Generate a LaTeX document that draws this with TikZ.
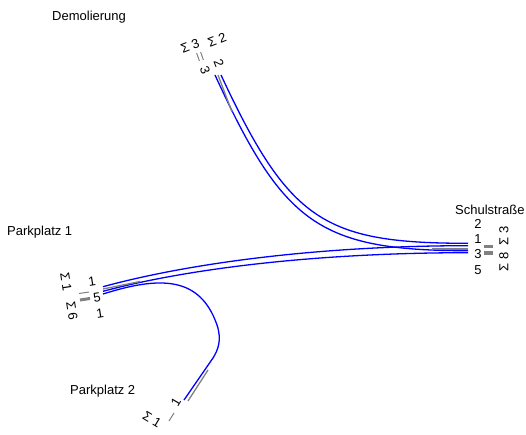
\documentclass[tikz,border=0pt]{standalone}
\usepackage{fontspec}
\setmainfont{Liberation Sans}
\usepackage{tikz}

\tikzset{
  road/.style={blue, line width=1.3pt},
  midline/.style={gray, line width=1.3pt},
  volbar/.style={gray, line width=#1},
  lbl/.style={inner sep=0pt, font=\fontsize{13}{15}\selectfont},
}

\begin{document}
\begin{tikzpicture}[x=1pt, y=-1pt]
  \useasboundingbox (0,0) rectangle (526,435);

  % roads
  \draw[road] (215,75) .. controls (283,223) and (318,250.7) .. (468,250.7);
  \draw[road] (221,75) .. controls (289,221) and (324,243.3) .. (468,243.3);
  \draw[road] (103,286.7) .. controls (190,263) and (320,245.7) .. (468,245.7);
  \draw[road] (103,291.3) .. controls (190,268) and (320,252.7) .. (468,252.7);
  \draw[road] (103,294) .. controls (160,276) and (200,276) .. (217,325)
      .. controls (222,340) and (218,350) .. (213,358) -- (184,400);

  % centre lines
  \draw[midline] (218,75) -- (232,112);
  \draw[midline] (103,289) -- (140,281.5);
  \draw[midline] (432,249) -- (468,249);
  \draw[midline] (208,370) -- (188,401);

  % junction names
  \node[lbl, anchor=west] (demol) at (52,17) {Demolierung};
  \node[lbl, anchor=west] (schul) at (455,210) {Schulstraße};
  \node[lbl, anchor=west] (park1) at (7,232) {Parkplatz 1};
  \node[lbl, anchor=west] (park2) at (70,391) {Parkplatz 2};

  % Schulstrasse end
  \foreach \y/\n in {224/2, 239/1, 254/3, 270/5}
    \node[lbl] (east\n) at (478,\y) {\n};
  \draw[volbar=3pt] (484,246.5) -- (493,246.5);
  \draw[volbar=4pt] (484,253) -- (493,253);
  \node[lbl, rotate=90] (eastsumA) at (504,236) {Σ 3};
  \node[lbl, rotate=90] (eastsumB) at (504,262) {Σ 8};

  % Parkplatz 1 end
  \node[lbl, rotate=9] (westA) at (92,282) {1};
  \node[lbl, rotate=9] (westB) at (97,298) {5};
  \node[lbl, rotate=9] (westC) at (100,314) {1};
  \draw[volbar=1pt] (79,293.5) -- (89,292);
  \draw[volbar=3pt] (80,300) -- (90,298.5);
  \node[lbl, rotate=-81] (westsumA) at (66,282) {Σ 1};
  \node[lbl, rotate=-81] (westsumB) at (72,311) {Σ 6};

  % Demolierung end
  \node[lbl, rotate=-69] (northA) at (205,70) {3};
  \node[lbl, rotate=-69] (northB) at (219,63) {2};
  \draw[volbar=1pt] (199.4,61) -- (196.6,53);
  \draw[volbar=1pt] (203.4,60) -- (200.6,52);
  \node[lbl, rotate=21] (northsumA) at (190,46) {Σ 3};
  \node[lbl, rotate=21] (northsumB) at (217,40) {Σ 2};

  % Parkplatz 2 end
  \node[lbl, rotate=59] (southA) at (176,402) {1};
  \draw[volbar=1pt] (174,413) -- (169,421);
  \node[lbl, rotate=-31] (southsum) at (152,420) {Σ 1};
\end{tikzpicture}
\end{document}
